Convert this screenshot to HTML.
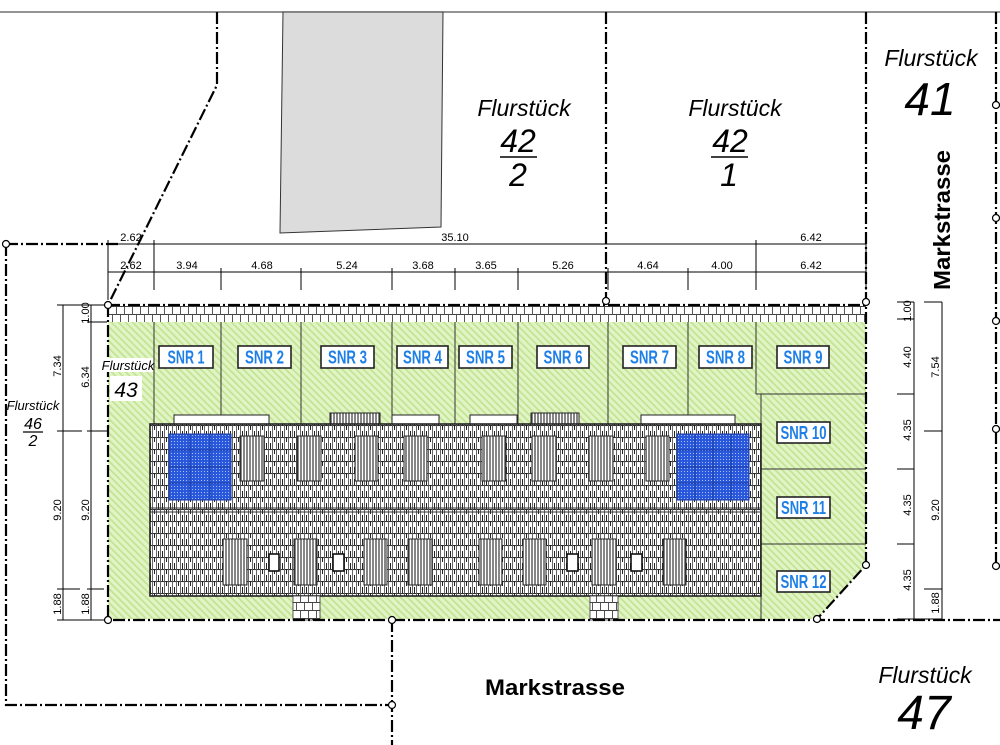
<!DOCTYPE html>
<html><head><meta charset="utf-8">
<style>html,body{margin:0;padding:0;background:#fff}svg{display:block}</style>
</head>
<body>
<svg width="1000" height="745" viewBox="0 0 1000 745" xmlns="http://www.w3.org/2000/svg" font-family="Liberation Sans, Arial, sans-serif">
<defs>
  <pattern id="hatch" width="5" height="5" patternUnits="userSpaceOnUse" patternTransform="rotate(-45)">
    <rect width="5" height="5" fill="#e1f4c5"/>
    <line x1="0.8" y1="0" x2="0.8" y2="5" stroke="#c2e392" stroke-width="1.8"/>
  </pattern>
  <pattern id="tiles" width="12" height="12" patternUnits="userSpaceOnUse" x="150" y="425">
    <rect width="12" height="12" fill="#fff"/>
    <path d="M0 0.5H12" stroke="#333" stroke-width="1.1"/>
    <path d="M2.5 0V12M6.5 0V12M10.5 0V12" stroke="#555" stroke-width="0.9"/>
    <path d="M4.5 0V5M8.5 6V12M0.5 6V12" stroke="#222" stroke-width="1"/>
  </pattern>
  <pattern id="dorm" width="3" height="10" patternUnits="userSpaceOnUse">
    <rect width="3" height="10" fill="#fff"/>
    <line x1="1" y1="0" x2="1" y2="10" stroke="#444" stroke-width="1.3"/>
  </pattern>
  <pattern id="solar" width="3" height="3" patternUnits="userSpaceOnUse">
    <rect width="3" height="3" fill="#2a58dc"/>
    <rect x="0" y="0" width="1" height="1" fill="#a8c0ff"/>
  </pattern>
  <pattern id="pave" width="16" height="16" patternUnits="userSpaceOnUse" x="108" y="306">
    <rect width="16" height="16" fill="#fff"/>
    <path d="M0 0.5H16M0 8.5H16M0.5 0V8M8.5 0V8M4.5 8V16M12.5 8V16" stroke="#444" stroke-width="0.9"/>
  </pattern>
</defs>

<!-- top border line -->
<path d="M0 12H1000" stroke="#555" stroke-width="1.2"/>
<!-- gray building top -->
<polygon points="283,12 443,12 441,227 280,233" fill="#dcdcdc" stroke="#333" stroke-width="1"/>

<!-- green plot -->
<path d="M108 322H866V565L817 619H108Z" fill="url(#hatch)"/>
<!-- paving strip -->
<rect x="108" y="306" width="758" height="16" fill="url(#pave)"/>

<!-- column dividers -->
<g stroke="#333" stroke-width="1">
  <path d="M154 322V425M221 322V425M301 322V425M392 322V425M455 322V425M518 322V425M608 322V425M688 322V425M756 322V394"/>
  <path d="M756 394H866M761 394V619M761 469H866M761 544H866"/>
</g>

<!-- balconies -->
<g fill="#fff" stroke="#222" stroke-width="1">
  <rect x="174" y="415" width="95" height="10"/>
  <rect x="330" y="413" width="50" height="12" fill="url(#dorm)"/>
  <rect x="392" y="415" width="47" height="10"/>
  <rect x="470" y="415" width="47" height="10"/>
  <rect x="531" y="413" width="48" height="12" fill="url(#dorm)"/>
  <rect x="641" y="415" width="94" height="10"/>
</g>

<!-- house -->
<rect x="150" y="424" width="611" height="172" fill="url(#tiles)" stroke="#222" stroke-width="1.6"/>
<path d="M150 508H761M150 512H761" stroke="#333" stroke-width="1"/>

<!-- solar panels -->
<rect x="169" y="434" width="62" height="66" fill="url(#solar)" stroke="#1a3aa0" stroke-width="1"/>
<path d="M190 434V500M210 434V500M169 450H231M169 467H231M169 483H231" stroke="#1a3aa0" stroke-width="1"/>
<rect x="677" y="434" width="72" height="66" fill="url(#solar)" stroke="#1a3aa0" stroke-width="1"/>
<path d="M695 434V500M713 434V500M731 434V500M677 450H749M677 467H749M677 483H749" stroke="#1a3aa0" stroke-width="1"/>

<!-- dormers -->
<g fill="url(#dorm)" stroke="#222" stroke-width="1">
  <rect x="240" y="436" width="24" height="45"/>
  <rect x="297" y="436" width="24" height="45"/>
  <rect x="355" y="436" width="23" height="45"/>
  <rect x="404" y="436" width="23" height="45"/>
  <rect x="482" y="436" width="24" height="45"/>
  <rect x="532" y="436" width="24" height="45"/>
  <rect x="589" y="436" width="24" height="45"/>
  <rect x="646" y="436" width="23" height="45"/>
  <rect x="223" y="539" width="24" height="46"/>
  <rect x="294" y="539" width="23" height="46"/>
  <rect x="364" y="539" width="23" height="46"/>
  <rect x="408" y="539" width="24" height="46"/>
  <rect x="479" y="539" width="23" height="46"/>
  <rect x="523" y="539" width="23" height="46"/>
  <rect x="592" y="539" width="24" height="46"/>
  <rect x="663" y="539" width="23" height="46"/>
</g>
<g fill="#fff" stroke="#111" stroke-width="1.6">
  <rect x="269" y="554" width="10" height="17"/>
  <rect x="333" y="554" width="11" height="17"/>
  <rect x="567" y="554" width="11" height="17"/>
  <rect x="631" y="554" width="11" height="17"/>
</g>

<!-- steps -->
<rect x="293" y="596" width="27" height="24" fill="url(#pave)" stroke="#333" stroke-width="0.8"/>
<rect x="590" y="596" width="28" height="24" fill="url(#pave)" stroke="#333" stroke-width="0.8"/>

<!-- dash-dot boundaries -->
<g fill="none" stroke="#000" stroke-width="2.2" stroke-dasharray="12 3 2 3">
  <path d="M217 12V85L108 305"/>
  <path d="M606 12V300"/>
  <path d="M866 12V565L817 619"/>
  <path d="M996 12V566"/>
  <path d="M6 244H120"/>
  <path d="M6 244V705H392"/>
  <path d="M392 620V745"/>
  <path d="M108 305H866"/>
  <path d="M108 305V620H1000"/>
</g>

<!-- dimension lines -->
<g stroke="#000" stroke-width="1" fill="none">
  <path d="M108 244H866M108 272H866"/>
  <path d="M108 240V300M154 240V290M756 240V290M866 240V290"/>
  <path d="M221 268V290M301 268V290M392 268V290M455 268V290M518 268V290M608 268V290M688 268V290"/>
  <path d="M63 305V620M91 305V620"/>
  <path d="M57 305H108M57 431H82M57 589H80M57 620H108M87 322H107M87 431H107M87 589H104"/>
  <path d="M914 302V619M942 302V619"/>
  <path d="M897 302H914M897 319H914M897 394H914M897 469H914M897 544H914M897 619H942M924 302H942M924 431H942M924 589H942"/>
</g>

<!-- circles -->
<g fill="#fff" stroke="#000" stroke-width="1.2">
  <circle cx="6" cy="244" r="3.5"/>
  <circle cx="108" cy="305" r="3.5"/>
  <circle cx="606" cy="301" r="3.5"/>
  <circle cx="866" cy="302" r="3.5"/>
  <circle cx="108" cy="620" r="3.5"/>
  <circle cx="392" cy="620" r="3.5"/>
  <circle cx="817" cy="619" r="3.5"/>
  <circle cx="866" cy="565" r="3.5"/>
  <circle cx="996" cy="105" r="3.5"/>
  <circle cx="996" cy="218" r="3.5"/>
  <circle cx="996" cy="321" r="3.5"/>
  <circle cx="996" cy="429" r="3.5"/>
  <circle cx="996" cy="566" r="3.5"/>
  <circle cx="392" cy="705" r="3.5"/>
</g>

<!-- dimension texts -->
<g font-size="11" text-anchor="middle" fill="#000">
  <text x="131" y="241">2.62</text>
  <text x="455" y="241">35.10</text>
  <text x="811" y="241">6.42</text>
  <text x="131" y="269">2.62</text>
  <text x="187" y="269">3.94</text>
  <text x="262" y="269">4.68</text>
  <text x="347" y="269">5.24</text>
  <text x="423" y="269">3.68</text>
  <text x="486" y="269">3.65</text>
  <text x="563" y="269">5.26</text>
  <text x="648" y="269">4.64</text>
  <text x="722" y="269">4.00</text>
  <text x="811" y="269">6.42</text>
  <text transform="translate(61,366) rotate(-90)">7.34</text>
  <text transform="translate(61,510) rotate(-90)">9.20</text>
  <text transform="translate(61,604) rotate(-90)">1.88</text>
  <text transform="translate(89,313) rotate(-90)">1.00</text>
  <text transform="translate(89,377) rotate(-90)">6.34</text>
  <text transform="translate(89,510) rotate(-90)">9.20</text>
  <text transform="translate(89,604) rotate(-90)">1.88</text>
  <text transform="translate(911,311) rotate(-90)">1.00</text>
  <text transform="translate(911,357) rotate(-90)">4.40</text>
  <text transform="translate(911,430) rotate(-90)">4.35</text>
  <text transform="translate(911,505) rotate(-90)">4.35</text>
  <text transform="translate(911,580) rotate(-90)">4.35</text>
  <text transform="translate(939,367) rotate(-90)">7.54</text>
  <text transform="translate(939,510) rotate(-90)">9.20</text>
  <text transform="translate(939,603) rotate(-90)">1.88</text>
</g>

<!-- SNR labels -->
<g fill="#fff" stroke="#222" stroke-width="1.6">
  <rect x="159" y="346" width="54" height="22"/>
  <rect x="238" y="346" width="53" height="22"/>
  <rect x="321" y="346" width="53" height="22"/>
  <rect x="397" y="346" width="51" height="22"/>
  <rect x="459" y="346" width="53" height="22"/>
  <rect x="537" y="346" width="52" height="22"/>
  <rect x="623" y="346" width="53" height="22"/>
  <rect x="699" y="346" width="53" height="22"/>
  <rect x="777" y="346" width="52" height="22"/>
  <rect x="777" y="422" width="53" height="21"/>
  <rect x="777" y="497" width="53" height="21"/>
  <rect x="777" y="571" width="53" height="21"/>
</g>
<g fill="#1e7fe6" font-weight="bold" font-size="18" text-anchor="middle">
  <text x="186" y="363.5" textLength="37" lengthAdjust="spacingAndGlyphs">SNR 1</text>
  <text x="264.5" y="363.5" textLength="39" lengthAdjust="spacingAndGlyphs">SNR 2</text>
  <text x="347.5" y="363.5" textLength="39" lengthAdjust="spacingAndGlyphs">SNR 3</text>
  <text x="422.5" y="363.5" textLength="39" lengthAdjust="spacingAndGlyphs">SNR 4</text>
  <text x="485.5" y="363.5" textLength="39" lengthAdjust="spacingAndGlyphs">SNR 5</text>
  <text x="563" y="363.5" textLength="39" lengthAdjust="spacingAndGlyphs">SNR 6</text>
  <text x="649.5" y="363.5" textLength="39" lengthAdjust="spacingAndGlyphs">SNR 7</text>
  <text x="725.5" y="363.5" textLength="39" lengthAdjust="spacingAndGlyphs">SNR 8</text>
  <text x="803" y="363.5" textLength="39" lengthAdjust="spacingAndGlyphs">SNR 9</text>
  <text x="803.5" y="439" textLength="46" lengthAdjust="spacingAndGlyphs">SNR 10</text>
  <text x="803.5" y="514" textLength="45" lengthAdjust="spacingAndGlyphs">SNR 11</text>
  <text x="803.5" y="588" textLength="46" lengthAdjust="spacingAndGlyphs">SNR 12</text>
</g>

<!-- Flurstück labels -->
<g font-style="italic" fill="#000" text-anchor="middle">
  <text x="524" y="116" font-size="23">Flurstück</text>
  <text x="518" y="152" font-size="32">42</text>
  <path d="M500 157H537" stroke="#000" stroke-width="1.5"/>
  <text x="518" y="186" font-size="32">2</text>

  <text x="735" y="116" font-size="23">Flurstück</text>
  <text x="730" y="152" font-size="32">42</text>
  <path d="M711 157H748" stroke="#000" stroke-width="1.5"/>
  <text x="729" y="186" font-size="32">1</text>

  <text x="931" y="66" font-size="23">Flurstück</text>
  <text x="930" y="115" font-size="46">41</text>

  <text x="925" y="683" font-size="23">Flurstück</text>
  <text x="924" y="729" font-size="48">47</text>

  <text x="33" y="410" font-size="13">Flurstück</text>
  <text x="33" y="429" font-size="16">46</text>
  <path d="M23 432H43" stroke="#000" stroke-width="1.2"/>
  <text x="33" y="446" font-size="16">2</text>
</g>
<rect x="103" y="358" width="50" height="14" fill="#fff"/>
<rect x="110" y="376" width="32" height="25" fill="#fff"/>
<text x="128" y="370" font-size="13" font-style="italic" text-anchor="middle">Flurstück</text>
<text x="126" y="397" font-size="21" font-style="italic" text-anchor="middle">43</text>

<!-- street names -->
<text transform="translate(950,220) rotate(-90)" font-size="23" font-weight="bold" text-anchor="middle" textLength="140" lengthAdjust="spacingAndGlyphs">Markstrasse</text>
<text x="555" y="695" font-size="22" font-weight="bold" text-anchor="middle" textLength="140" lengthAdjust="spacingAndGlyphs">Markstrasse</text>
</svg>
</body></html>
